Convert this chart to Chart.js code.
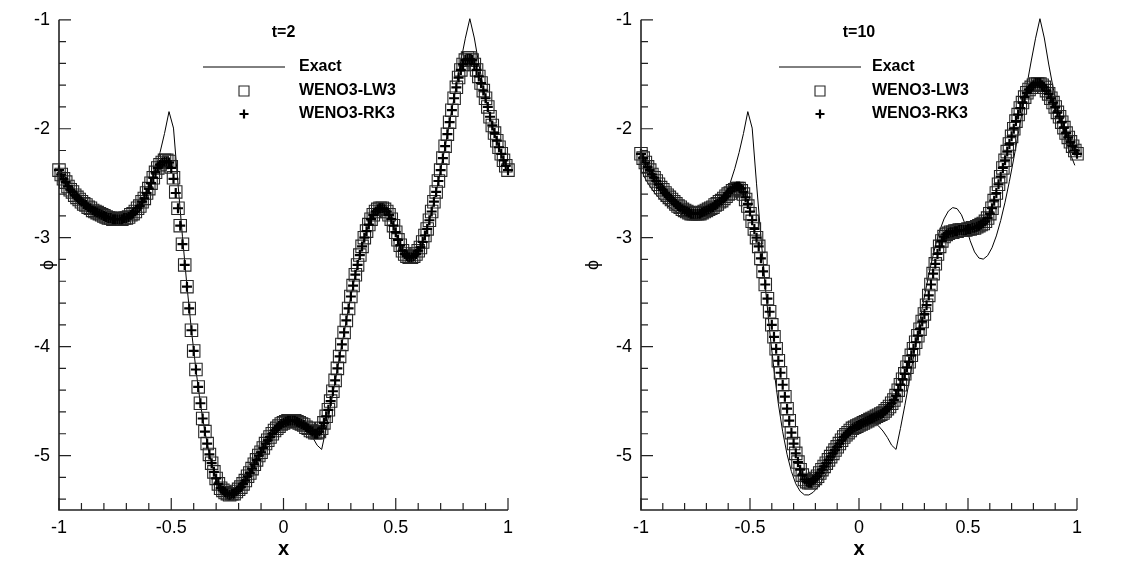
<!DOCTYPE html>
<html>
<head>
<meta charset="utf-8">
<title>WENO3 phi profiles, t=2 and t=10</title>
<script src="https://cdn.jsdelivr.net/npm/chart.js@4.4.1/dist/chart.umd.min.js"></script>
<style>
  html, body { margin: 0; padding: 0; background: #fff; }
  #wrap { position: relative; width: 1136px; height: 561px; }
  canvas { position: absolute; top: 0; }
  #left { left: 0; }
  #right { left: 568px; }
</style>
</head>
<body>
<div id="wrap">
  <canvas id="left" width="568" height="561"></canvas>
  <canvas id="right" width="568" height="561"></canvas>
</div>
<script>
const FONT = "'Liberation Sans', Arial, Helvetica, sans-serif";

// exact solution, sampled at the cell centres
const exactX = [
  -0.99, -0.97, -0.95, -0.93, -0.91, -0.89, -0.87, -0.85, -0.83, -0.81,
  -0.79, -0.77, -0.75, -0.73, -0.71, -0.69, -0.67, -0.65, -0.63, -0.61,
  -0.59, -0.57, -0.55, -0.53, -0.51, -0.49, -0.47, -0.45, -0.43, -0.41,
  -0.39, -0.37, -0.35, -0.33, -0.31, -0.29, -0.27, -0.25, -0.23, -0.21,
  -0.19, -0.17, -0.15, -0.13, -0.11, -0.09, -0.07, -0.05, -0.03, -0.01,
  0.01, 0.03, 0.05, 0.07, 0.09, 0.11, 0.13, 0.15, 0.17, 0.19,
  0.21, 0.23, 0.25, 0.27, 0.29, 0.31, 0.33, 0.35, 0.37, 0.39,
  0.41, 0.43, 0.45, 0.47, 0.49, 0.51, 0.53, 0.55, 0.57, 0.59,
  0.61, 0.63, 0.65, 0.67, 0.69, 0.71, 0.73, 0.75, 0.77, 0.79,
  0.81, 0.83, 0.85, 0.87, 0.89, 0.91, 0.93, 0.95, 0.97, 0.99
];
const exactPhi = [
  -2.422, -2.495, -2.556, -2.607, -2.650, -2.687, -2.719, -2.747, -2.771, -2.793,
  -2.810, -2.824, -2.832, -2.834, -2.827, -2.810, -2.780, -2.735, -2.674, -2.593,
  -2.492, -2.367, -2.218, -2.044, -1.843, -1.994, -2.506, -2.992, -3.443, -3.852,
  -4.213, -4.524, -4.782, -4.989, -5.147, -5.259, -5.328, -5.361, -5.362, -5.337,
  -5.292, -5.230, -5.159, -5.083, -5.005, -4.930, -4.861, -4.800, -4.749, -4.711,
  -4.686, -4.675, -4.679, -4.697, -4.729, -4.775, -4.834, -4.906, -4.944, -4.752,
  -4.543, -4.322, -4.095, -3.869, -3.648, -3.439, -3.247, -3.078, -2.937, -2.828,
  -2.756, -2.724, -2.734, -2.790, -2.892, -3.029, -3.131, -3.187, -3.197, -3.165,
  -3.093, -2.984, -2.843, -2.674, -2.482, -2.273, -2.052, -1.826, -1.599, -1.378,
  -1.169, -0.990, -1.167, -1.406, -1.619, -1.807, -1.971, -2.112, -2.233, -2.336
];

// numerical solutions, on the grid nodes
const gridX = [
  -1, -0.99, -0.98, -0.97, -0.96, -0.95, -0.94, -0.93, -0.92, -0.91,
  -0.9, -0.89, -0.88, -0.87, -0.86, -0.85, -0.84, -0.83, -0.82, -0.81,
  -0.8, -0.79, -0.78, -0.77, -0.76, -0.75, -0.74, -0.73, -0.72, -0.71,
  -0.7, -0.69, -0.68, -0.67, -0.66, -0.65, -0.64, -0.63, -0.62, -0.61,
  -0.6, -0.59, -0.58, -0.57, -0.56, -0.55, -0.54, -0.53, -0.52, -0.51,
  -0.5, -0.49, -0.48, -0.47, -0.46, -0.45, -0.44, -0.43, -0.42, -0.41,
  -0.4, -0.39, -0.38, -0.37, -0.36, -0.35, -0.34, -0.33, -0.32, -0.31,
  -0.3, -0.29, -0.28, -0.27, -0.26, -0.25, -0.24, -0.23, -0.22, -0.21,
  -0.2, -0.19, -0.18, -0.17, -0.16, -0.15, -0.14, -0.13, -0.12, -0.11,
  -0.1, -0.09, -0.08, -0.07, -0.06, -0.05, -0.04, -0.03, -0.02, -0.01,
  0, 0.01, 0.02, 0.03, 0.04, 0.05, 0.06, 0.07, 0.08, 0.09,
  0.1, 0.11, 0.12, 0.13, 0.14, 0.15, 0.16, 0.17, 0.18, 0.19,
  0.2, 0.21, 0.22, 0.23, 0.24, 0.25, 0.26, 0.27, 0.28, 0.29,
  0.3, 0.31, 0.32, 0.33, 0.34, 0.35, 0.36, 0.37, 0.38, 0.39,
  0.4, 0.41, 0.42, 0.43, 0.44, 0.45, 0.46, 0.47, 0.48, 0.49,
  0.5, 0.51, 0.52, 0.53, 0.54, 0.55, 0.56, 0.57, 0.58, 0.59,
  0.6, 0.61, 0.62, 0.63, 0.64, 0.65, 0.66, 0.67, 0.68, 0.69,
  0.7, 0.71, 0.72, 0.73, 0.74, 0.75, 0.76, 0.77, 0.78, 0.79,
  0.8, 0.81, 0.82, 0.83, 0.84, 0.85, 0.86, 0.87, 0.88, 0.89,
  0.9, 0.91, 0.92, 0.93, 0.94, 0.95, 0.96, 0.97, 0.98, 0.99,
  1
];

const lw3T2 = [
  -2.38, -2.42, -2.46, -2.49, -2.53, -2.56, -2.58, -2.61, -2.63, -2.65,
  -2.67, -2.69, -2.70, -2.72, -2.73, -2.75, -2.76, -2.77, -2.78, -2.79,
  -2.80, -2.81, -2.82, -2.82, -2.83, -2.83, -2.83, -2.83, -2.83, -2.82,
  -2.82, -2.81, -2.79, -2.78, -2.76, -2.73, -2.71, -2.67, -2.64, -2.59,
  -2.55, -2.50, -2.45, -2.40, -2.36, -2.33, -2.31, -2.29, -2.29, -2.30,
  -2.35, -2.45, -2.58, -2.73, -2.89, -3.06, -3.25, -3.45, -3.65, -3.85,
  -4.04, -4.21, -4.37, -4.52, -4.66, -4.78, -4.89, -4.99, -5.07, -5.15,
  -5.21, -5.26, -5.30, -5.32, -5.34, -5.35, -5.36, -5.35, -5.35, -5.33,
  -5.31, -5.29, -5.26, -5.23, -5.19, -5.16, -5.12, -5.08, -5.04, -5.00,
  -4.97, -4.93, -4.89, -4.86, -4.83, -4.80, -4.77, -4.75, -4.73, -4.71,
  -4.70, -4.69, -4.68, -4.68, -4.68, -4.68, -4.69, -4.70, -4.71, -4.72,
  -4.74, -4.75, -4.77, -4.78, -4.79, -4.79, -4.78, -4.75, -4.70, -4.64,
  -4.58, -4.50, -4.41, -4.31, -4.20, -4.09, -3.98, -3.87, -3.76, -3.65,
  -3.54, -3.44, -3.34, -3.25, -3.16, -3.08, -3.00, -2.94, -2.88, -2.83,
  -2.79, -2.76, -2.74, -2.73, -2.73, -2.74, -2.76, -2.79, -2.83, -2.89,
  -2.95, -3.02, -3.07, -3.12, -3.15, -3.17, -3.18, -3.18, -3.17, -3.15,
  -3.12, -3.09, -3.04, -2.98, -2.92, -2.84, -2.76, -2.67, -2.58, -2.48,
  -2.38, -2.27, -2.16, -2.05, -1.94, -1.83, -1.72, -1.62, -1.53, -1.46,
  -1.41, -1.37, -1.35, -1.35, -1.37, -1.41, -1.46, -1.52, -1.58, -1.65,
  -1.72, -1.80, -1.89, -1.97, -2.04, -2.11, -2.17, -2.23, -2.29, -2.34,
  -2.38
];
const rk3T2 = [
  -2.38, -2.42, -2.46, -2.49, -2.53, -2.56, -2.58, -2.61, -2.63, -2.65,
  -2.67, -2.69, -2.70, -2.72, -2.73, -2.75, -2.76, -2.77, -2.78, -2.79,
  -2.80, -2.81, -2.82, -2.82, -2.83, -2.83, -2.83, -2.83, -2.83, -2.82,
  -2.82, -2.81, -2.79, -2.78, -2.76, -2.73, -2.71, -2.67, -2.64, -2.59,
  -2.55, -2.50, -2.45, -2.40, -2.36, -2.33, -2.31, -2.30, -2.30, -2.31,
  -2.36, -2.46, -2.59, -2.73, -2.89, -3.06, -3.25, -3.45, -3.65, -3.85,
  -4.04, -4.21, -4.37, -4.52, -4.66, -4.78, -4.89, -4.99, -5.07, -5.15,
  -5.21, -5.26, -5.30, -5.32, -5.34, -5.35, -5.36, -5.35, -5.35, -5.33,
  -5.31, -5.29, -5.26, -5.23, -5.19, -5.16, -5.12, -5.08, -5.04, -5.00,
  -4.97, -4.93, -4.89, -4.86, -4.83, -4.80, -4.77, -4.75, -4.73, -4.71,
  -4.70, -4.69, -4.68, -4.68, -4.68, -4.68, -4.69, -4.70, -4.71, -4.72,
  -4.74, -4.75, -4.77, -4.78, -4.80, -4.80, -4.78, -4.75, -4.70, -4.64,
  -4.58, -4.50, -4.41, -4.31, -4.20, -4.09, -3.98, -3.87, -3.76, -3.65,
  -3.54, -3.44, -3.34, -3.25, -3.16, -3.08, -3.00, -2.94, -2.88, -2.83,
  -2.79, -2.76, -2.74, -2.73, -2.73, -2.74, -2.76, -2.79, -2.83, -2.89,
  -2.95, -3.02, -3.07, -3.12, -3.15, -3.17, -3.18, -3.18, -3.17, -3.15,
  -3.12, -3.09, -3.04, -2.98, -2.92, -2.84, -2.76, -2.67, -2.58, -2.48,
  -2.38, -2.27, -2.16, -2.05, -1.94, -1.83, -1.72, -1.62, -1.53, -1.46,
  -1.41, -1.37, -1.36, -1.36, -1.37, -1.41, -1.46, -1.52, -1.58, -1.65,
  -1.72, -1.80, -1.89, -1.97, -2.04, -2.11, -2.17, -2.23, -2.29, -2.34,
  -2.38
];

const lw3T10 = [
  -2.23, -2.27, -2.31, -2.35, -2.38, -2.42, -2.45, -2.48, -2.51, -2.54,
  -2.56, -2.59, -2.61, -2.63, -2.65, -2.67, -2.69, -2.71, -2.72, -2.74,
  -2.75, -2.76, -2.77, -2.78, -2.78, -2.78, -2.78, -2.78, -2.77, -2.76,
  -2.75, -2.74, -2.73, -2.72, -2.70, -2.69, -2.67, -2.66, -2.64, -2.62,
  -2.60, -2.59, -2.57, -2.56, -2.55, -2.55, -2.57, -2.60, -2.65, -2.71,
  -2.78, -2.85, -2.92, -3.00, -3.08, -3.19, -3.31, -3.43, -3.56, -3.68,
  -3.80, -3.91, -4.02, -4.13, -4.24, -4.35, -4.46, -4.57, -4.68, -4.79,
  -4.89, -4.98, -5.06, -5.13, -5.18, -5.22, -5.24, -5.25, -5.25, -5.23,
  -5.21, -5.19, -5.16, -5.13, -5.10, -5.07, -5.04, -5.01, -4.98, -4.95,
  -4.92, -4.89, -4.86, -4.83, -4.81, -4.79, -4.77, -4.75, -4.74, -4.73,
  -4.72, -4.71, -4.70, -4.69, -4.68, -4.67, -4.66, -4.65, -4.64, -4.63,
  -4.62, -4.61, -4.59, -4.57, -4.55, -4.52, -4.49, -4.45, -4.40, -4.35,
  -4.30, -4.25, -4.19, -4.14, -4.08, -4.02, -3.96, -3.90, -3.84, -3.77,
  -3.70, -3.62, -3.53, -3.43, -3.33, -3.24, -3.15, -3.08, -3.03, -2.99,
  -2.97, -2.96, -2.95, -2.95, -2.94, -2.94, -2.93, -2.93, -2.93, -2.93,
  -2.92, -2.92, -2.91, -2.91, -2.90, -2.89, -2.88, -2.87, -2.85, -2.82,
  -2.78, -2.73, -2.66, -2.59, -2.51, -2.44, -2.36, -2.29, -2.21, -2.14,
  -2.07, -2.00, -1.93, -1.87, -1.81, -1.76, -1.71, -1.67, -1.64, -1.62,
  -1.60, -1.59, -1.59, -1.59, -1.60, -1.62, -1.65, -1.68, -1.72, -1.76,
  -1.80, -1.85, -1.89, -1.94, -1.99, -2.04, -2.08, -2.12, -2.16, -2.20,
  -2.23
];
const rk3T10 = [
  -2.23, -2.27, -2.31, -2.35, -2.38, -2.42, -2.45, -2.48, -2.51, -2.54,
  -2.56, -2.59, -2.61, -2.63, -2.65, -2.67, -2.69, -2.71, -2.72, -2.74,
  -2.75, -2.76, -2.77, -2.78, -2.78, -2.78, -2.78, -2.78, -2.77, -2.76,
  -2.75, -2.74, -2.73, -2.72, -2.70, -2.69, -2.67, -2.66, -2.64, -2.62,
  -2.59, -2.57, -2.55, -2.54, -2.53, -2.53, -2.55, -2.58, -2.63, -2.69,
  -2.76, -2.84, -2.92, -3.00, -3.08, -3.19, -3.31, -3.43, -3.56, -3.68,
  -3.80, -3.91, -4.02, -4.13, -4.24, -4.35, -4.46, -4.57, -4.68, -4.79,
  -4.89, -4.98, -5.06, -5.13, -5.18, -5.22, -5.24, -5.25, -5.25, -5.23,
  -5.21, -5.19, -5.16, -5.13, -5.10, -5.07, -5.04, -5.01, -4.98, -4.95,
  -4.92, -4.89, -4.86, -4.83, -4.81, -4.79, -4.77, -4.75, -4.74, -4.73,
  -4.72, -4.71, -4.70, -4.69, -4.68, -4.67, -4.66, -4.65, -4.64, -4.63,
  -4.62, -4.61, -4.59, -4.57, -4.55, -4.52, -4.49, -4.45, -4.40, -4.35,
  -4.30, -4.25, -4.19, -4.14, -4.08, -4.02, -3.96, -3.90, -3.84, -3.77,
  -3.70, -3.62, -3.53, -3.43, -3.33, -3.24, -3.15, -3.08, -3.03, -2.99,
  -2.97, -2.96, -2.95, -2.95, -2.94, -2.94, -2.93, -2.93, -2.93, -2.93,
  -2.92, -2.92, -2.91, -2.91, -2.90, -2.89, -2.88, -2.87, -2.85, -2.82,
  -2.78, -2.73, -2.66, -2.59, -2.51, -2.44, -2.36, -2.29, -2.21, -2.14,
  -2.07, -2.00, -1.93, -1.87, -1.81, -1.76, -1.71, -1.67, -1.64, -1.62,
  -1.60, -1.58, -1.58, -1.58, -1.60, -1.62, -1.65, -1.68, -1.72, -1.76,
  -1.80, -1.85, -1.89, -1.94, -1.99, -2.04, -2.08, -2.12, -2.16, -2.20,
  -2.23
];

const seriesNames = ['Exact', 'WENO3-LW3', 'WENO3-RK3'];
const xTicks = [-1, -0.5, 0, 0.5, 1];
const xMinor = [-0.9, -0.8, -0.7, -0.6, -0.4, -0.3, -0.2, -0.1, 0.1, 0.2, 0.3, 0.4, 0.6, 0.7, 0.8, 0.9];
const yTicks = [-5, -4, -3, -2, -1];
const yMinor = [-5.4, -5.2, -4.8, -4.6, -4.4, -4.2, -3.8, -3.6, -3.4, -3.2, -2.8, -2.6, -2.4, -2.2, -1.8, -1.6, -1.4, -1.2];

function pts(xs, ys) {
  return xs.map((x, i) => ({ x: x, y: ys[i] }));
}

// axis lines plus inward tick marks, Tecplot style
const innerTicks = {
  id: 'innerTicks',
  afterDraw(chart) {
    const { ctx, chartArea: a, scales: { x, y } } = chart;
    ctx.save();
    ctx.strokeStyle = '#222';
    ctx.lineWidth = 1.2;
    ctx.beginPath();
    xTicks.forEach(v => { const p = x.getPixelForValue(v); ctx.moveTo(p, a.bottom); ctx.lineTo(p, a.bottom - 12); });
    xMinor.forEach(v => { const p = x.getPixelForValue(v); ctx.moveTo(p, a.bottom); ctx.lineTo(p, a.bottom - 7); });
    yTicks.forEach(v => { const p = y.getPixelForValue(v); ctx.moveTo(a.left, p); ctx.lineTo(a.left + 12, p); });
    yMinor.forEach(v => { const p = y.getPixelForValue(v); ctx.moveTo(a.left, p); ctx.lineTo(a.left + 7, p); });
    ctx.stroke();
    ctx.lineWidth = 1.6;
    ctx.beginPath();
    ctx.moveTo(a.left, a.top);
    ctx.lineTo(a.left, a.bottom);
    ctx.lineTo(a.right, a.bottom);
    ctx.stroke();
    ctx.restore();
  }
};

// time label and legend block inside the plot
const panelLegend = {
  id: 'panelLegend',
  afterDraw(chart, args, opts) {
    const { ctx, chartArea: a } = chart;
    ctx.save();
    ctx.fillStyle = '#000';
    ctx.font = 'bold 16px ' + FONT;
    ctx.textBaseline = 'middle';
    ctx.textAlign = 'center';
    ctx.fillText(opts.title, (a.left + a.right) / 2, 33);
    ctx.textAlign = 'left';
    const cx = a.left + opts.sampleX;
    chart.data.datasets.forEach((ds, i) => {
      const y = opts.rows[i];
      ctx.strokeStyle = ds.borderColor;
      ctx.lineWidth = ds.borderWidth;
      ctx.beginPath();
      if (ds.showLine) {
        ctx.moveTo(cx - 41, y);
        ctx.lineTo(cx + 41, y);
      } else if (ds.pointStyle === 'rect') {
        const h = 5;
        ctx.rect(cx - h, y - h, 2 * h, 2 * h);
      } else {
        const r = 4.5;
        ctx.moveTo(cx - r, y); ctx.lineTo(cx + r, y);
        ctx.moveTo(cx, y - r); ctx.lineTo(cx, y + r);
      }
      ctx.stroke();
      ctx.fillText(ds.label, a.left + opts.textX, y);
    });
    ctx.restore();
  }
};

function makePanel(id, title, lw, rk, g) {
  new Chart(document.getElementById(id), {
    type: 'scatter',
    data: {
      datasets: [
        {
          label: seriesNames[0], data: pts(exactX, exactPhi), showLine: true,
          borderColor: '#000', borderWidth: 1, pointRadius: 0, tension: 0, order: 2, clip: false
        },
        {
          label: seriesNames[1], data: pts(gridX, lw), showLine: false,
          pointStyle: 'rect', pointRadius: 8.8, borderColor: '#262626', borderWidth: 1.1,
          pointBorderColor: '#262626', pointBorderWidth: 1.1,
          backgroundColor: 'rgba(0,0,0,0)', pointBackgroundColor: 'rgba(0,0,0,0)',
          order: 1, clip: false
        },
        {
          label: seriesNames[2], data: pts(gridX, rk), showLine: false,
          pointStyle: 'cross', pointRadius: 5, borderColor: '#000', borderWidth: 2.2,
          pointBorderColor: '#000', pointBorderWidth: 2.2,
          order: 0, clip: false
        }
      ]
    },
    options: {
      responsive: false,
      animation: false,
      devicePixelRatio: 1,
      events: [],
      layout: { padding: { left: 0, right: g.right, top: 15, bottom: 0 } },
      plugins: {
        legend: { display: false },
        tooltip: { enabled: false },
        panelLegend: { title: title, sampleX: g.sampleX, textX: g.textX, rows: [67, 91, 114] }
      },
      scales: {
        x: {
          type: 'linear', min: -1, max: 1,
          grid: { display: false, drawTicks: false },
          border: { display: false },
          afterBuildTicks: s => { s.ticks = xTicks.map(v => ({ value: v })); },
          afterFit: s => { s.height = 51; },
          ticks: {
            color: '#000', font: { family: FONT, size: 18 }, padding: 7,
            maxRotation: 0, autoSkip: false, callback: v => String(v)
          },
          title: {
            display: true, text: 'x', color: '#000',
            font: { family: FONT, size: 20, weight: 'bold' }, padding: 0
          }
        },
        y: {
          type: 'linear', min: -5.5, max: -1,
          grid: { display: false, drawTicks: false },
          border: { display: false },
          afterBuildTicks: s => { s.ticks = yTicks.map(v => ({ value: v })); },
          afterFit: s => { s.width = g.axisWidth; },
          ticks: {
            color: '#000', font: { family: FONT, size: 18 }, padding: 9,
            autoSkip: false, callback: v => String(v)
          },
          title: {
            display: true, text: 'ϕ', color: '#000',
            font: { family: FONT, size: 18 }, padding: { top: g.phiPad, bottom: 0 }
          }
        }
      }
    },
    plugins: [innerTicks, panelLegend]
  });
}

makePanel('left', 't=2', lw3T2, rk3T2, { axisWidth: 59, right: 60, phiPad: 37, sampleX: 185, textX: 240 });
makePanel('right', 't=10', lw3T10, rk3T10, { axisWidth: 73, right: 59, phiPad: 14, sampleX: 179, textX: 231 });
</script>
</body>
</html>
